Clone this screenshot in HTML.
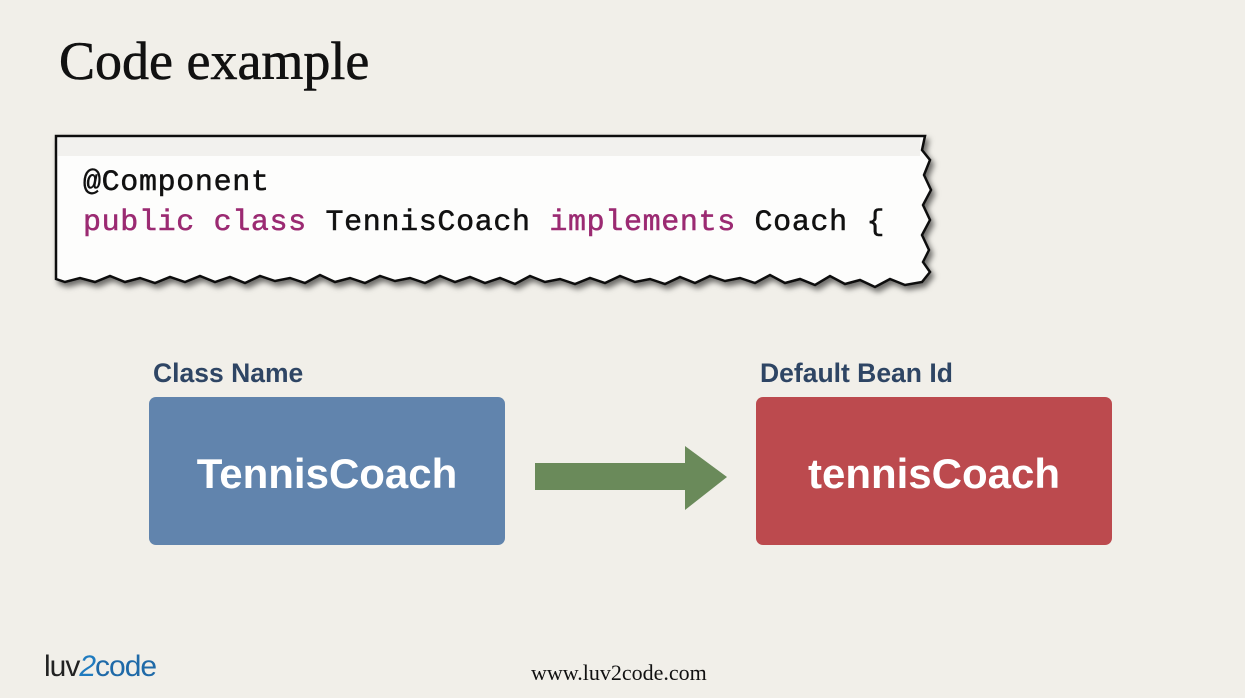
<!DOCTYPE html>
<html><head><meta charset="utf-8"><style>
body{margin:0;width:1245px;height:698px;background:#f1efe9;position:relative;overflow:hidden;font-family:"Liberation Sans",sans-serif}
.t{position:absolute;white-space:nowrap}
</style></head><body>
<div class="t" style="left:59px;top:30px;font-family:'Liberation Serif',serif;font-size:54px;color:#111;letter-spacing:0px;-webkit-text-stroke:0.6px #111">Code example</div>
<svg width="1245" height="698" style="position:absolute;left:0;top:0">
<defs><filter id="s" x="-5%" y="-5%" width="110%" height="120%"><feDropShadow dx="3" dy="4" stdDeviation="3" flood-color="#000" flood-opacity="0.55"/></filter></defs>
<polygon filter="url(#s)" fill="#fdfdfc" stroke="#111" stroke-width="2.5" points="56,136 925,136 922,150 930,160 924,175 931,190 923,205 930,220 922,235 929,250 923,262 930,272 922,282 905,285 890,279 875,287 860,280 845,284 830,276 815,285 800,279 785,283 770,275 755,283 740,278 725,281 710,276 695,283 680,277 665,284 650,279 635,282 620,276 605,283 590,278 575,284 560,279 545,282 530,276 515,284 500,278 485,283 470,277 455,282 440,276 425,283 410,278 395,281 380,276 365,283 350,278 335,282 320,275 305,283 290,278 275,281 260,276 245,283 230,277 215,282 200,276 185,282 170,277 155,283 140,278 125,282 110,276 95,282 80,278 65,282 56,279"/>
<rect x="58" y="138" width="862" height="18" fill="#f2f1ee"/>
<rect x="535" y="463" width="152" height="27" fill="#6a8a5a"/>
<polygon points="685,446 727,477 685,510" fill="#6a8a5a"/>
</svg>
<div class="t" style="left:83px;top:163px;font-family:'Liberation Mono',monospace;font-size:30px;color:#111;line-height:40px;letter-spacing:0.65px;-webkit-text-stroke:0.5px currentColor">@Component<br><span style="color:#9b2a72">public class</span> TennisCoach <span style="color:#9b2a72">implements</span> Coach {</div>
<div class="t" style="left:153px;top:358px;font-size:26.5px;font-weight:bold;color:#2e4564">Class Name</div>
<div class="t" style="left:760px;top:358px;font-size:26.5px;font-weight:bold;color:#2e4564">Default Bean Id</div>
<div class="t" style="left:149px;top:397px;width:356px;height:148px;background:#6184ad;border-radius:7px;color:#fff;font-weight:bold;font-size:42px;line-height:154px;text-align:center">TennisCoach</div>
<div class="t" style="left:756px;top:397px;width:356px;height:148px;background:#bc4a4e;border-radius:7px;color:#fff;font-weight:bold;font-size:42px;line-height:154px;text-align:center">tennisCoach</div>
<div class="t" style="left:44px;top:650px;font-size:30px;color:#222;letter-spacing:-1px">luv<span style="color:#1f7bbf;font-style:italic">2</span><span style="color:#1f6aa8">code</span></div>
<div class="t" style="left:531px;top:660px;font-family:'Liberation Serif',serif;font-size:22px;color:#111">www.luv2code.com</div>
</body></html>
